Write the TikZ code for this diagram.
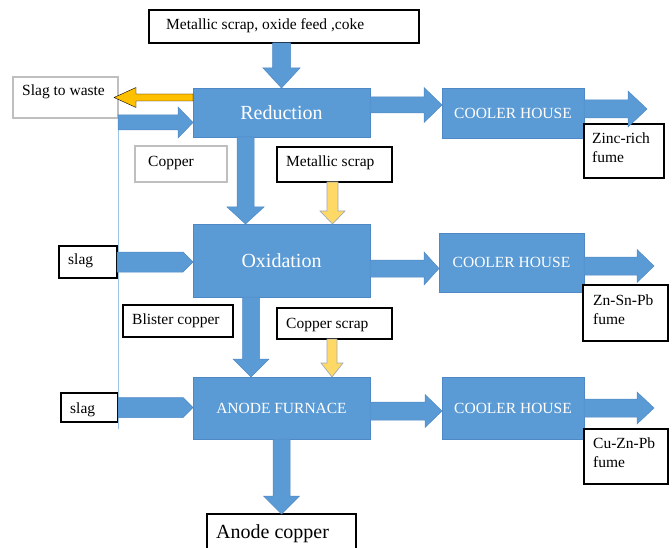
\documentclass[tikz,border=0pt]{standalone}
\usepackage{fontspec}
\setmainfont{Liberation Serif}
\usetikzlibrary{calc}

\definecolor{flowblue}{HTML}{5B9BD5}
\definecolor{flowedge}{HTML}{4F88C6}
\definecolor{slagorange}{HTML}{FFC000}
\definecolor{scrapyellow}{HTML}{FFD966}
\definecolor{scrapedge}{HTML}{A0AAB8}
\definecolor{softgray}{HTML}{BFBFBF}
\definecolor{guideblue}{HTML}{9DC3E6}

% horizontal block arrow: style, start, tip, shaft half width, head half width, head length
\newcommand\hflow[6]{%
  \draw[#1] let \p1=#2, \p2=#3, \n1={sign(\x2-\x1)*(#6)} in
    (\x1,{\y1+#4}) -- ({\x2-\n1},{\y1+#4}) -- ({\x2-\n1},{\y1+#5})
    -- (\x2,\y1) -- ({\x2-\n1},{\y1-#5}) -- ({\x2-\n1},{\y1-#4})
    -- (\x1,{\y1-#4}) -- cycle;}
% vertical block arrow: style, start, tip, shaft half width, head half width, head length
\newcommand\vflow[6]{%
  \draw[#1] let \p1=#2, \p2=#3, \n1={sign(\y2-\y1)*(#6)} in
    ({\x1+#4},\y1) -- ({\x1+#4},{\y2-\n1}) -- ({\x1+#5},{\y2-\n1})
    -- (\x1,\y2) -- ({\x1-#5},{\y2-\n1}) -- ({\x1-#4},{\y2-\n1})
    -- ({\x1-#4},\y1) -- cycle;}

\tikzset{
  box/.style={anchor=north west, inner sep=0pt, outer sep=0pt},
  unit/.style={box, draw=flowedge, fill=flowblue, line width=0.6pt, text=white},
  feed/.style={box, draw=black, fill=white, line width=1.3pt},
  softfeed/.style={box, draw=softgray, fill=white, line width=1.6pt},
  flow/.style={fill=flowblue, draw=flowedge, line width=0.5pt},
  waste/.style={fill=slagorange},
  scrapflow/.style={fill=scrapyellow, draw=scrapedge, line width=0.7pt},
  lbl/.style={inner sep=0pt, anchor=base west, font=\fontsize{15.5}{19}\selectfont},
  fumelbl/.style={inner sep=0pt, anchor=north west, align=left, font=\fontsize{15.5}{19}\selectfont},
  biglbl/.style={font=\fontsize{20}{24}\selectfont},
  smalllbl/.style={font=\fontsize{15.5}{19}\selectfont},
}

\begin{document}
\begin{tikzpicture}[x=1pt,y=-1pt]
\useasboundingbox (0,0) rectangle (672,548);
\clip (0,0) rectangle (672,548);

% process units
\node[unit, biglbl, minimum width=177pt, minimum height=49pt] (red) at (193,88) {Reduction};
\node[unit, biglbl, minimum width=177pt, minimum height=73pt] (ox) at (193,224) {Oxidation};
\node[unit, smalllbl, minimum width=177pt, minimum height=62pt] (an) at (193,377) {ANODE FURNACE};
\node[unit, smalllbl, minimum width=142pt, minimum height=50pt] (cool1) at (442,88) {COOLER HOUSE};
\node[unit, smalllbl, minimum width=145pt, minimum height=59pt] (cool2) at (439,233) {COOLER HOUSE};
\node[unit, smalllbl, minimum width=142pt, minimum height=62pt] (cool3) at (442,377) {COOLER HOUSE};

% feed and product boxes
\node[feed, minimum width=270pt, minimum height=33pt] (feedtop) at (149,10) {};
\node[softfeed, minimum width=105pt, minimum height=41pt] (slagw) at (13,77) {};
\node[softfeed, minimum width=92pt, minimum height=36pt] (copper) at (135,146) {};
\node[feed, minimum width=115pt, minimum height=35pt] (metal) at (277,147) {};
\node[feed, minimum width=58pt, minimum height=32pt] (slag1) at (59,246) {};
\node[feed, minimum width=110pt, minimum height=32pt] (blister) at (123,305) {};
\node[feed, minimum width=115pt, minimum height=31pt] (cuscrap) at (277,308) {};
\node[feed, minimum width=57pt, minimum height=29pt] (slag2) at (61,393) {};
\node[feed, minimum width=149pt, minimum height=60pt] (acu) at (207,514) {};
\node[feed, minimum width=80pt, minimum height=54pt] (fume1) at (584,124) {};
\node[feed, minimum width=85pt, minimum height=56pt] (fume2) at (583,285) {};
\node[feed, minimum width=84pt, minimum height=55pt] (fume3) at (584,429) {};

% side rail
\coordinate (rail) at (118,130);
\coordinate (railend) at (118,429);
\coordinate (railIn) at (118,122.5);
\draw[guideblue, line width=0.8pt] (rail) -- (railend);

% fume outlets
\coordinate (fume1tip) at (647,109);
\coordinate (fume2tip) at (654,266);
\coordinate (fume3tip) at (654,408);

% main flow arrows
\vflow{flow}{(red.north |- feedtop.south)}{(red.north)}{9pt}{18.5pt}{20pt}
\vflow{flow}{([xshift=-36pt]red.south)}{(ox.north)}{8.5pt}{18.5pt}{17pt}
\vflow{flow}{([xshift=-30.5pt]ox.south)}{(an.north)}{8.5pt}{18pt}{18pt}
\vflow{flow}{(an.south)}{(acu.north)}{8.5pt}{18pt}{18pt}

\hflow{waste}{([yshift=15pt]red.west)}{([xshift=-4pt]slagw.east)}{3.5pt}{10pt}{22pt}
\hflow{flow}{(railIn)}{(red.west)}{7.5pt}{15.5pt}{15pt}
\hflow{flow}{(slag1.east)}{(ox.west)}{10pt}{10pt}{10pt}
\hflow{flow}{(slag2.east)}{(an.west)}{10pt}{10pt}{10pt}

\hflow{flow}{([yshift=7.5pt]red.east)}{(cool1.west)}{8pt}{17.5pt}{18pt}
\hflow{flow}{([yshift=4pt]cool1.east)}{(fume1tip)}{9pt}{18pt}{19pt}
\hflow{flow}{([yshift=-8pt]ox.east)}{(cool2.west)}{8.5pt}{16.5pt}{15pt}
\hflow{flow}{([yshift=-3.5pt]cool2.east)}{(fume2tip)}{9pt}{16.5pt}{17pt}
\hflow{flow}{([yshift=-3pt]an.east)}{(cool3.west)}{9pt}{16.5pt}{17pt}
\hflow{flow}{(cool3.east |- fume3tip)}{(fume3tip)}{9pt}{16pt}{17pt}

% scrap additions
\vflow{scrapflow}{([xshift=-2pt]metal.south)}{(ox.north)}{5.5pt}{12.5pt}{13pt}
\vflow{scrapflow}{([xshift=-2.5pt]cuscrap.south)}{(an.north)}{5pt}{11pt}{14pt}

% box labels
\node[lbl] (tfeedtop) at ([xshift=17pt,yshift=-20pt]feedtop.north west) {Metallic scrap, oxide feed ,coke};
\node[lbl] (tslagw) at ([xshift=9pt,yshift=-19pt]slagw.north west) {Slag to waste};
\node[lbl] (tcopper) at ([xshift=13pt,yshift=-21pt]copper.north west) {Copper};
\node[lbl] (tmetal) at ([xshift=9pt,yshift=-20pt]metal.north west) {Metallic scrap};
\node[lbl] (tslag1) at ([xshift=9pt,yshift=-19pt]slag1.north west) {slag};
\node[lbl] (tblister) at ([xshift=9pt,yshift=-19pt]blister.north west) {Blister copper};
\node[lbl] (tcuscrap) at ([xshift=9pt,yshift=-20pt]cuscrap.north west) {Copper scrap};
\node[lbl] (tslag2) at ([xshift=9pt,yshift=-20pt]slag2.north west) {slag};
\node[lbl, biglbl] (tacu) at ([xshift=9pt,yshift=-24pt]acu.north west) {Anode copper};
\node[fumelbl] (tfume1) at ([xshift=8pt,yshift=-8.4pt]fume1.north west) {Zinc-rich\\fume};
\node[fumelbl] (tfume2) at ([xshift=10pt,yshift=-9.4pt]fume2.north west) {Zn-Sn-Pb\\fume};
\node[fumelbl] (tfume3) at ([xshift=9pt,yshift=-8.4pt]fume3.north west) {Cu-Zn-Pb\\fume};
\end{tikzpicture}
\end{document}
